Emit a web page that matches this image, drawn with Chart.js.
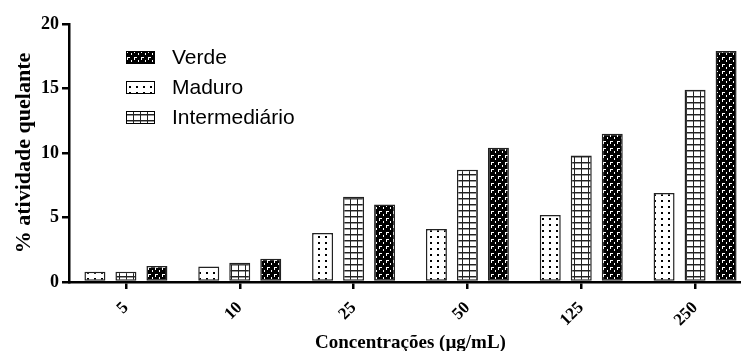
<!DOCTYPE html>
<html>
<head>
<meta charset="utf-8">
<script src="https://cdn.jsdelivr.net/npm/chart.js@4/dist/chart.umd.min.js"></script>
<style>
  html, body { margin: 0; padding: 0; background: #fff; overflow: hidden; }
  #wrap { width: 741px; height: 351px; overflow: hidden; }
  canvas { display: block; }
</style>
</head>
<body>
<div id="wrap"><canvas id="c" width="760" height="351"></canvas></div>
<script>
// Concentrations tested (µg/mL)
const concentracoes = ['5', '10', '25', '50', '125', '250'];

// % chelating activity per extract
const maduro        = [0.8, 1.2, 3.8, 4.1, 5.2, 6.9];
const intermediario = [0.8, 1.5, 6.6, 8.7, 9.8, 14.9];
const verde         = [1.25, 1.8, 6.0, 10.4, 11.5, 17.9];

// y axis ticks
const yTicks = [0, 5, 10, 15, 20];

const canvas = document.getElementById('c');
const ctx = canvas.getContext('2d');

function tile(w, h, paint) {
  const t = document.createElement('canvas');
  t.width = w; t.height = h;
  paint(t.getContext('2d'));
  return ctx.createPattern(t, 'repeat');
}

// white with black dots
const dots = tile(7, 6, g => {
  g.fillStyle = '#fff'; g.fillRect(0, 0, 7, 6);
  g.fillStyle = '#000'; g.fillRect(3, 2, 2, 2);
});

// white with a square grid
const grid = tile(7, 6, g => {
  g.fillStyle = '#fff'; g.fillRect(0, 0, 7, 6);
  g.fillStyle = '#222';
  g.fillRect(0, 0, 7, 1);
  g.fillRect(0, 0, 1, 6);
  g.fillStyle = '#999';
  g.fillRect(1, 1, 6, 1);
});

// black with small white hooks and dashes
const hooks = tile(7, 7, g => {
  g.fillStyle = '#000'; g.fillRect(0, 0, 7, 7);
  g.fillStyle = '#fff';
  g.fillRect(1, 1, 1, 3);
  g.fillRect(1, 1, 3, 1);
  g.fillRect(5, 4, 1, 2);
});

const serif = "'Liberation Serif', 'Times New Roman', serif";
const sans = "'Liberation Sans', Arial, sans-serif";

// legend drawn inside the plot, in its own order
const boxLegend = {
  id: 'boxLegend',
  afterDraw(chart, args, o) {
    const c = chart.ctx;
    c.save();
    o.order.forEach((idx, i) => {
      const ds = chart.data.datasets[idx];
      const y = o.top + i * o.step;
      c.fillStyle = ds.backgroundColor;
      c.fillRect(o.left, y, o.boxW, o.boxH);
      c.strokeStyle = '#000';
      c.lineWidth = 1;
      c.strokeRect(o.left + 0.5, y + 0.5, o.boxW - 1, o.boxH - 1);
      c.fillStyle = '#000';
      c.font = o.font;
      c.textBaseline = 'middle';
      c.textAlign = 'left';
      c.fillText(ds.label, o.textX, y + o.boxH / 2 + 1);
    });
    c.restore();
  }
};

new Chart(ctx, {
  type: 'bar',
  data: {
    labels: concentracoes,
    datasets: [
      { label: 'Maduro', data: maduro, backgroundColor: dots },
      { label: 'Intermediário', data: intermediario, backgroundColor: grid },
      { label: 'Verde', data: verde, backgroundColor: hooks }
    ].map(d => Object.assign(d, {
      borderColor: '#222',
      borderWidth: 1.5,
      borderSkipped: false,
      categoryPercentage: 0.817,
      barPercentage: 0.677
    }))
  },
  plugins: [boxLegend],
  options: {
    responsive: false,
    devicePixelRatio: 1,
    animation: false,
    layout: { padding: { top: 24, right: 8, bottom: 0, left: 0 } },
    plugins: {
      legend: { display: false },
      tooltip: { enabled: false },
      boxLegend: {
        order: [2, 0, 1],
        left: 126, top: 51, step: 30,
        boxW: 29, boxH: 13,
        textX: 172,
        font: '21px ' + sans
      }
    },
    scales: {
      x: {
        offset: true,
        afterFit: s => { s.height = 69; },
        grid: {
          offset: false,
          drawOnChartArea: false,
          drawTicks: true,
          tickLength: 7,
          color: '#000',
          lineWidth: 2.5
        },
        border: { display: true, color: '#000', width: 2.5 },
        ticks: {
          color: '#000',
          font: { family: serif, size: 17, weight: 'bold' },
          minRotation: 45,
          maxRotation: 45,
          padding: 9
        },
        title: {
          display: true,
          text: 'Concentrações (µg/mL)',
          color: '#000',
          font: { family: serif, size: 19, weight: 'bold', lineHeight: 0.85 },
          padding: { top: 0, bottom: 0 }
        }
      },
      y: {
        min: 0,
        max: 20,
        afterFit: s => { s.width = 69; },
        afterBuildTicks: s => { s.ticks = yTicks.map(v => ({ value: v })); },
        grid: {
          drawOnChartArea: false,
          drawTicks: true,
          tickLength: 7,
          color: '#000',
          lineWidth: 2.5
        },
        border: { display: true, color: '#000', width: 2.5 },
        ticks: {
          color: '#000',
          font: { family: serif, size: 18, weight: 'bold' },
          padding: 3
        },
        title: {
          display: true,
          text: '% atividade quelante',
          color: '#000',
          font: { family: serif, size: 22, weight: 'bold', lineHeight: 1 },
          padding: { top: 13, bottom: 0 }
        }
      }
    }
  }
});
</script>
</body>
</html>
